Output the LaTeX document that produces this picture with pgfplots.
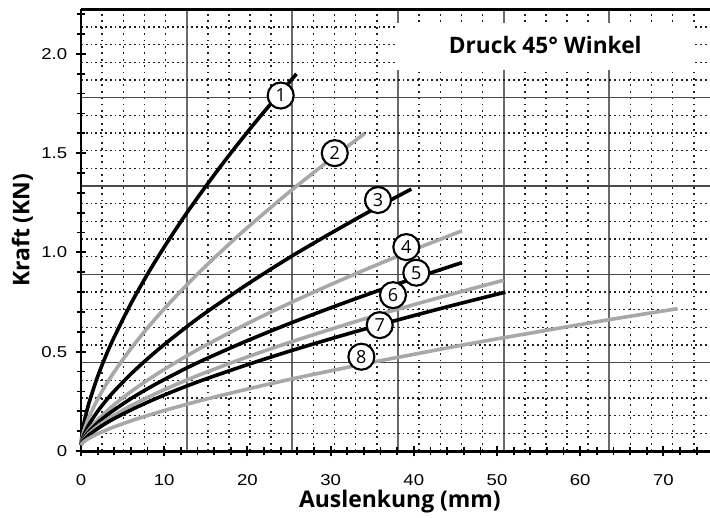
\documentclass[border=0pt]{standalone}
\usepackage{fontspec}
\setmainfont{Liberation Sans}
\newfontfamily\labfont{Open Sans}
\newfontfamily\tickfont{Liberation Sans}[FakeStretch=1.18]
\usepackage{pgfplots}
\pgfplotsset{compat=1.18}
\usetikzlibrary{calc}
\definecolor{curvegray}{HTML}{A8A8A8}
\definecolor{gridgray}{HTML}{6A6A6A}
\definecolor{dotgray}{HTML}{202020}
\tikzset{lbl/.style={circle, draw=black, line width=1.6pt, fill=white, inner sep=0pt, minimum size=19.5pt, font=\labfont\fontsize{13.5}{13.5}\selectfont}}
\begin{document}
\begin{tikzpicture}
% background grid (imperial grid: 0.1 in and 20 lbf)
\begin{axis}[
  width=471.75pt, height=331.3pt, scale only axis,
  xmin=0, xmax=75.6, ymin=0, ymax=2.224,
  axis line style={draw=none},
  xtick={12.7,25.4,38.1,50.8,63.5},
  minor xtick={2.54,5.08,7.62,10.16,15.24,17.78,20.32,22.86,27.94,30.48,33.02,35.56,40.64,43.18,45.72,48.26,53.34,55.88,58.42,60.96,66.04,68.58,71.12,73.66},
  ytick={0.4448,0.8896,1.3344,1.7792},
  minor ytick={0.08896,0.17792,0.26688,0.35584,0.53376,0.62272,0.71168,0.80064,0.97856,1.06752,1.15648,1.24544,1.42336,1.51232,1.60128,1.69024,1.86816,1.95712,2.04608,2.13504},
  xticklabels={}, yticklabels={},
  major tick length=0pt, minor tick length=0pt,
  grid=both,
  major x grid style={gridgray, line width=1.3pt},
  major y grid style={gridgray!70!black, line width=1.0pt},
  minor x grid style={dotgray, line width=1.1pt, dash pattern=on 1.4pt off 3.4pt},
  minor y grid style={dotgray, line width=1.1pt, dash pattern=on 1.4pt off 2.2pt},
]
\end{axis}
% main axis
\begin{axis}[
  width=471.75pt, height=331.3pt, scale only axis,
  xmin=0, xmax=75.6, ymin=0, ymax=2.224,
  axis x line=box, axis y line=left,
  axis line style={-, line width=2.2pt, black},
  xtick pos=lower, ytick pos=left,
  xtick={0,10,20,30,40,50,60,70},
  minor xtick={0,2,...,74},
  ytick={0,0.5,1,1.5,2},
  yticklabels={0,0.5,1.0,1.5,2.0},
  minor ytick={0,0.1,...,2.21},
  tick align=center,
  major tick length=8pt, minor tick length=6.5pt,
  every tick/.style={black, line width=1.5pt},
  every minor tick/.style={black, line width=1.3pt},
  /pgf/number format/assume math mode=true,
  tick label style={font=\tickfont\fontsize{11.8}{11.8}\selectfont},
  xticklabel style={anchor=center, yshift=-17.5pt},
  yticklabel style={anchor=east, inner sep=0pt, xshift=-6.2pt},
  xlabel={Auslenkung (mm)},
  ylabel={Kraft (KN)},
  label style={font=\labfont\bfseries\fontsize{17.2}{17.2}\selectfont},
  xlabel style={at={(axis description cs:0.507,-0.1147)}, anchor=center},
  ylabel style={at={(axis description cs:-0.0933,0.5)}, anchor=center, rotate=0},
  clip=false,
]
\coordinate (sw) at (rel axis cs:0,0);
\coordinate (ne) at (rel axis cs:1,1);
\fill[white] (axis cs:37.94,1.918) rectangle (axis cs:73.8,2.154);
\node[font=\labfont\bfseries\fontsize{17}{17}\selectfont] at (axis cs:55.8,2.044) {Druck 45° Winkel};

\addplot[black, line width=2.7pt, smooth] coordinates {(0,0.03)(0.2,0.105)(0.5,0.168)(1,0.248)(2,0.375)(3,0.481)(4,0.575)(6,0.742)(8,0.891)(10,1.027)(12.5,1.186)(15,1.333)(17.5,1.473)(20,1.606)(22.5,1.733)(25.9,1.899)};
\addplot[curvegray, line width=2.7pt, smooth] coordinates {(0,0.03)(0.2,0.079)(0.5,0.121)(1,0.175)(2,0.261)(3,0.334)(4,0.399)(6,0.516)(8,0.620)(10,0.716)(12.5,0.827)(15,0.932)(17.5,1.030)(20,1.125)(25,1.303)(30,1.469)(34.1,1.599)};
\addplot[black, line width=2.7pt, smooth] coordinates {(0,0.03)(0.2,0.066)(0.5,0.096)(1,0.136)(2,0.200)(3,0.254)(4,0.302)(6,0.388)(8,0.465)(10,0.536)(12.5,0.619)(15,0.697)(20,0.840)(25,0.973)(30,1.096)(35,1.214)(39.7,1.319)};
\addplot[curvegray, line width=2.7pt, smooth] coordinates {(0,0.03)(0.2,0.056)(0.5,0.079)(1,0.109)(2,0.157)(3,0.197)(4,0.234)(6,0.299)(8,0.357)(10,0.411)(12.5,0.474)(15,0.533)(20,0.642)(25,0.743)(30,0.838)(35,0.928)(40,1.014)(45.8,1.109)};
\addplot[black, line width=2.7pt, smooth] coordinates {(0,0.03)(0.2,0.054)(0.5,0.074)(1,0.100)(2,0.142)(3,0.177)(4,0.208)(6,0.264)(8,0.314)(10,0.360)(12.5,0.414)(15,0.464)(20,0.556)(25,0.641)(30,0.721)(35,0.797)(40,0.869)(45.8,0.949)};
\addplot[curvegray, line width=2.7pt, smooth] coordinates {(0,0.03)(0.2,0.050)(0.5,0.067)(1,0.090)(2,0.125)(3,0.154)(4,0.181)(6,0.228)(8,0.270)(10,0.309)(12.5,0.354)(15,0.396)(20,0.474)(25,0.546)(30,0.613)(35,0.677)(40,0.737)(45,0.795)(50.8,0.860)};
\addplot[black, line width=2.7pt, smooth] coordinates {(0,0.03)(0.2,0.047)(0.5,0.062)(1,0.082)(2,0.113)(3,0.140)(4,0.164)(6,0.207)(8,0.246)(10,0.282)(12.5,0.324)(15,0.363)(20,0.435)(25,0.502)(30,0.565)(35,0.625)(40,0.682)(45,0.737)(51,0.800)};
\addplot[curvegray, line width=2.7pt, smooth] coordinates {(0,0.03)(0.2,0.041)(0.5,0.052)(1,0.065)(2,0.087)(3,0.105)(4,0.122)(6,0.152)(8,0.179)(10,0.204)(12.5,0.233)(15,0.261)(20,0.312)(25,0.360)(30,0.404)(35,0.447)(40,0.487)(45,0.527)(50,0.565)(55,0.601)(60,0.637)(65,0.672)(71.7,0.717)};

\node[lbl] at (axis cs:24.0,1.79) {1};
\node[lbl] at (axis cs:30.5,1.50) {2};
\node[lbl] at (axis cs:35.7,1.264) {3};
\node[lbl] at (axis cs:39.1,1.027) {4};
\node[lbl] at (axis cs:40.3,0.898) {5};
\node[lbl] at (axis cs:37.5,0.785) {6};
\node[lbl] at (axis cs:35.9,0.634) {7};
\node[lbl] at (axis cs:33.7,0.475) {8};
\end{axis}
\pgfresetboundingbox
\path[use as bounding box] ($(sw)+(-60.75pt,-49.5pt)$) rectangle ($(ne)+(0pt,7pt)$);
\end{tikzpicture}
\end{document}
